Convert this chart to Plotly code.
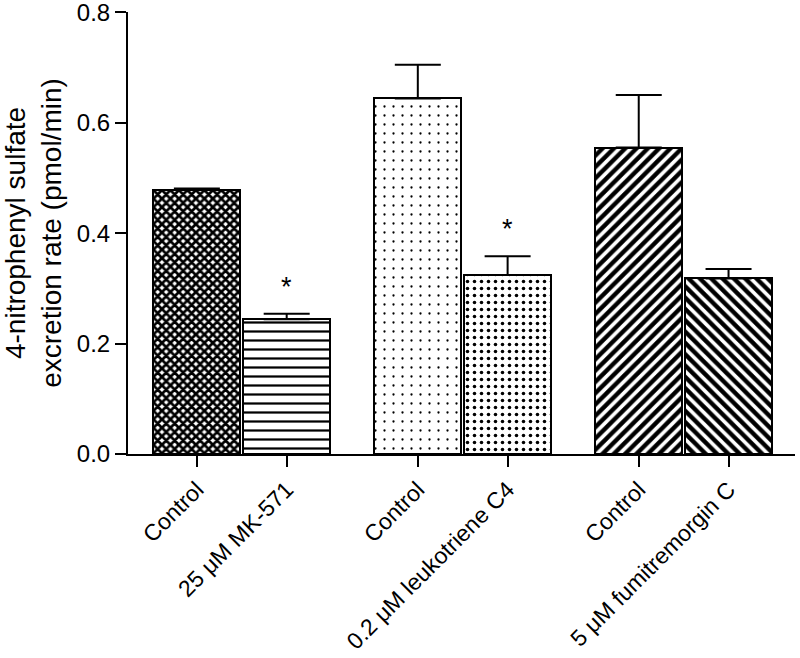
import plotly.graph_objects as go

categories = ["Control", "25 μM MK-571", "Control", "0.2 μM leukotriene C4",
              "Control", "5 μM fumitremorgin C"]
group_index = [0, 0, 1, 1, 2, 2]
values = [0.478, 0.244, 0.644, 0.324, 0.555, 0.318]
errors = [0.003, 0.010, 0.061, 0.034, 0.095, 0.017]
significant = [False, True, False, True, False, False]
y_ticks = [0.0, 0.2, 0.4, 0.6, 0.8]

# layout helpers (positions of bars derived from group structure)
group_step = 2.46
positions = []
for i, g in enumerate(group_index):
    within = i - group_index.index(g)
    positions.append(g * group_step + within)

shapes = ["x", "-", ".", ".", "/", "\\"]
sizes = [6, 9, 9, 7, 8, 8]
solid = [0.7, 0.25, 0.05, 0.2, 0.55, 0.55]

font = "Liberation Sans, Arial, sans-serif"

fig = go.Figure()
fig.add_trace(go.Bar(
    x=positions,
    y=values,
    width=0.97,
    marker=dict(
        color="white",
        line=dict(color="black", width=2),
        pattern=dict(shape=shapes, size=sizes, solidity=solid,
                     fgcolor="black", bgcolor="white", fgopacity=1,
                     fillmode="overlay"),
    ),
    error_y=dict(type="data", symmetric=False, array=errors,
                 arrayminus=[0] * len(errors),
                 color="black", thickness=2, width=23),
    showlegend=False,
    hoverinfo="skip",
))

for xp, v, e, s in zip(positions, values, errors, significant):
    if s:
        fig.add_annotation(x=xp, y=v + e, xref="x", yref="y", text="*",
                           showarrow=False, yanchor="bottom", yshift=10,
                           font=dict(size=27, color="black", family=font))

fig.update_layout(
    width=800, height=658,
    margin=dict(l=128, r=5, t=12, b=204),
    plot_bgcolor="white", paper_bgcolor="white",
    font=dict(family=font, size=24, color="black"),
    bargap=0,
)
fig.update_xaxes(
    range=[-0.767, positions[-1] + 0.74],
    tickvals=positions, ticktext=categories, tickangle=-45,
    showline=True, linewidth=2, linecolor="black",
    ticks="outside", ticklen=11, tickwidth=2, tickcolor="black",
    showgrid=False, zeroline=False, automargin=False,
    tickfont=dict(size=23, family=font, color="black"),
    ticklabeloverflow="allow",
)
fig.update_yaxes(
    range=[0, 0.8005], tickvals=y_ticks, ticktext=[f"{t:.1f}" for t in y_ticks],
    showline=True, linewidth=2, linecolor="black",
    ticks="outside", ticklen=11, tickwidth=2, tickcolor="black",
    showgrid=False, zeroline=False, automargin=False,
    tickfont=dict(size=24, family=font, color="black"),
    ticklabeloverflow="allow",
    title=dict(text="4-nitrophenyl sulfate<br>excretion rate (pmol/min)",
               font=dict(size=28, family=font, color="black"), standoff=12),
)

fig.write_html("out.html", config={"displayModeBar": False},
               post_script="document.body.style.margin='0';")
